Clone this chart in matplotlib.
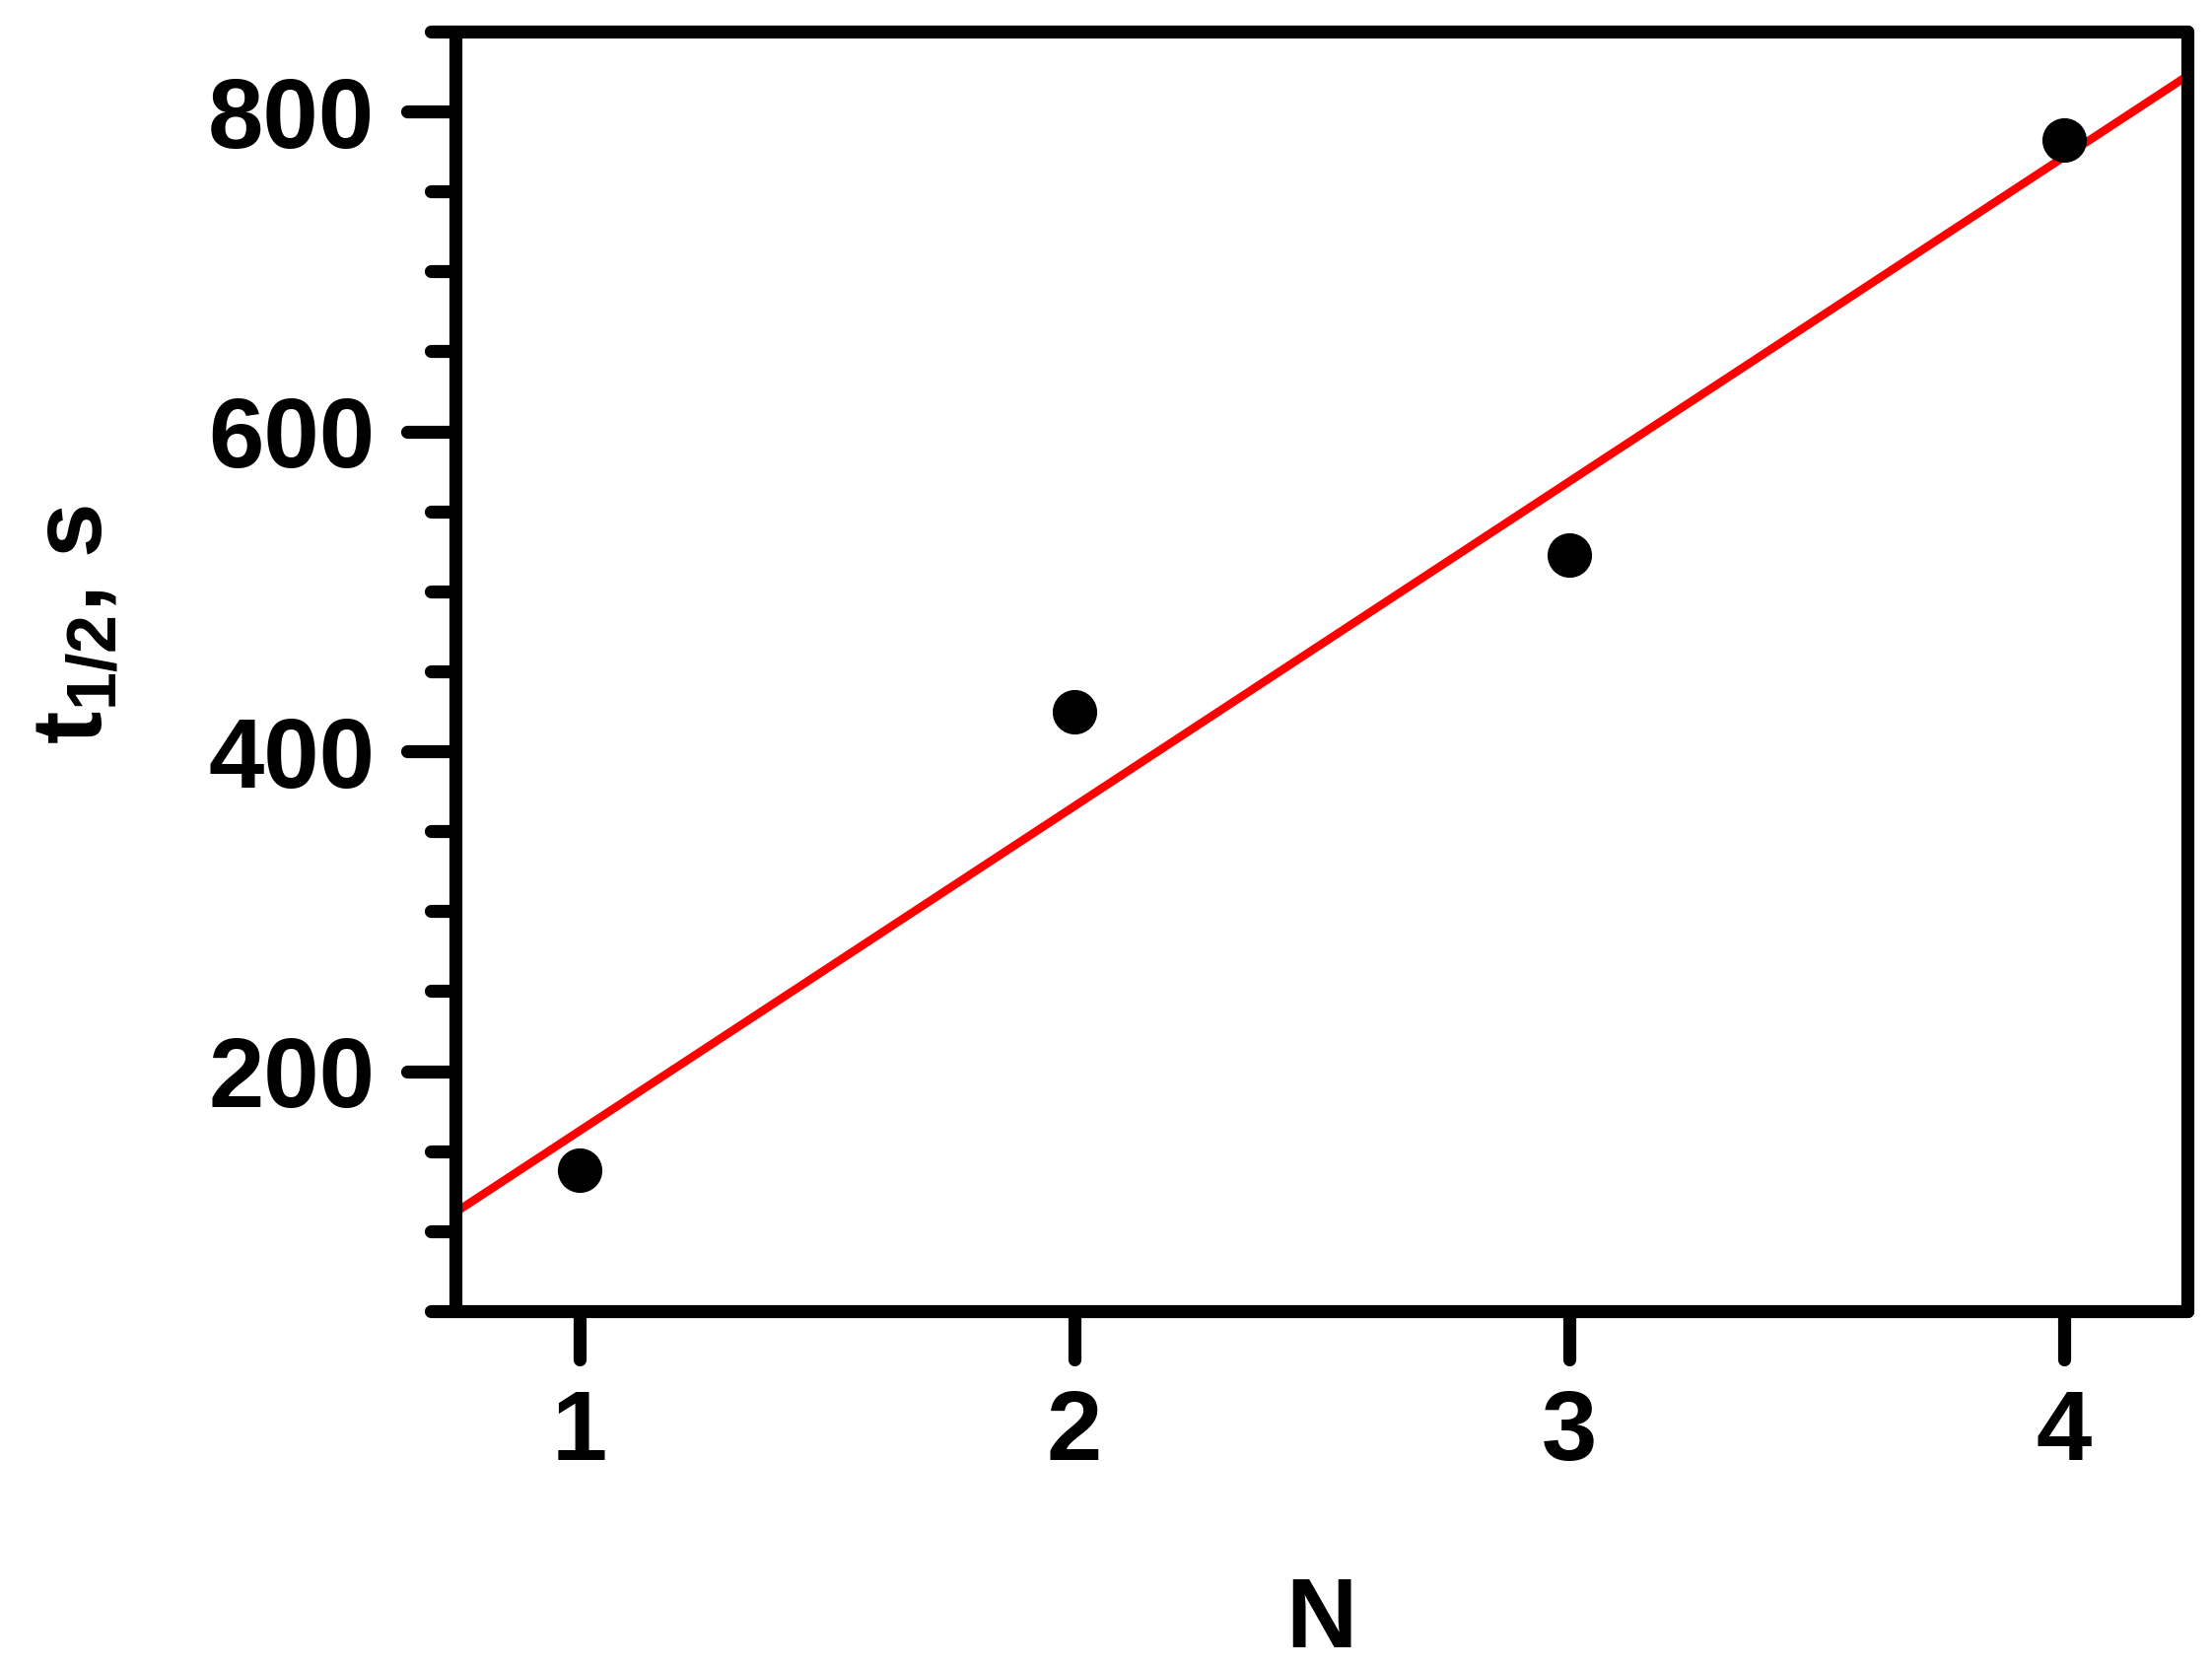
import numpy as np
import matplotlib
matplotlib.use("Agg")
import matplotlib.pyplot as plt
from matplotlib.ticker import MultipleLocator
from matplotlib.markers import MarkerStyle, TICKLEFT, TICKDOWN

plt.rcParams['font.family'] = ['Liberation Sans', 'DejaVu Sans']
plt.rcParams['font.weight'] = 'bold'
plt.rcParams['mathtext.fontset'] = 'custom'
plt.rcParams['mathtext.rm'] = 'Liberation Sans:bold'
plt.rcParams['mathtext.it'] = 'Liberation Sans:italic:bold'
plt.rcParams['mathtext.bf'] = 'Liberation Sans:bold'

# data
n_vals = [1, 2, 3, 4]
t_half = [138, 425, 523, 782]

xlim = (0.75, 4.25)
ylim = (50, 850)
xticks = [1, 2, 3, 4]
yticks = [200, 400, 600, 800]

# linear fit through the points
slope, icpt = np.polyfit(n_vals, t_half, 1)
fit_x = np.array(xlim)
fit_y = slope * fit_x + icpt

fig = plt.figure(figsize=(22.44, 16.91), dpi=100)
ax = fig.add_axes([0.2059, 0.2135, 0.783, 0.7676])

ax.plot(fit_x, fit_y, color='#ff0000', lw=6.0, solid_capstyle='butt', zorder=2)
ax.plot(n_vals, t_half, 'o', color='black', ms=31.5, zorder=3)

ax.set_xlim(*xlim)
ax.set_ylim(*ylim)
ax.set_xticks(xticks)
ax.set_yticks(yticks)
ax.yaxis.set_minor_locator(MultipleLocator(50))

for sp in ax.spines.values():
    sp.set_linewidth(9.5)
    sp.set_capstyle('round')

ax.tick_params(axis='both', which='major', direction='out', length=35, width=9.5,
               labelsize=73, pad=24)
ax.tick_params(axis='x', pad=21)
ax.tick_params(axis='y', which='minor', direction='out', length=18, width=9.5)
ax.tick_params(axis='x', which='minor', bottom=False)

# rounded tick ends
for tk in ax.yaxis.get_major_ticks() + ax.yaxis.get_minor_ticks():
    tk.tick1line.set_marker(MarkerStyle(TICKLEFT, capstyle='round'))
for tk in ax.xaxis.get_major_ticks():
    tk.tick1line.set_marker(MarkerStyle(TICKDOWN, capstyle='round'))

ax.set_xlabel('N', fontsize=72, fontweight='bold')
ax.xaxis.set_label_coords(0.5, -0.2065)
ax.xaxis.label.set_va('top')

ax.set_ylabel(r'$\mathrm{t}_{\mathit{1/2}}$, s', fontsize=72, fontweight='bold')
ax.yaxis.set_label_coords(-0.192, 0.537)

fig.savefig('out.png', dpi=100)
